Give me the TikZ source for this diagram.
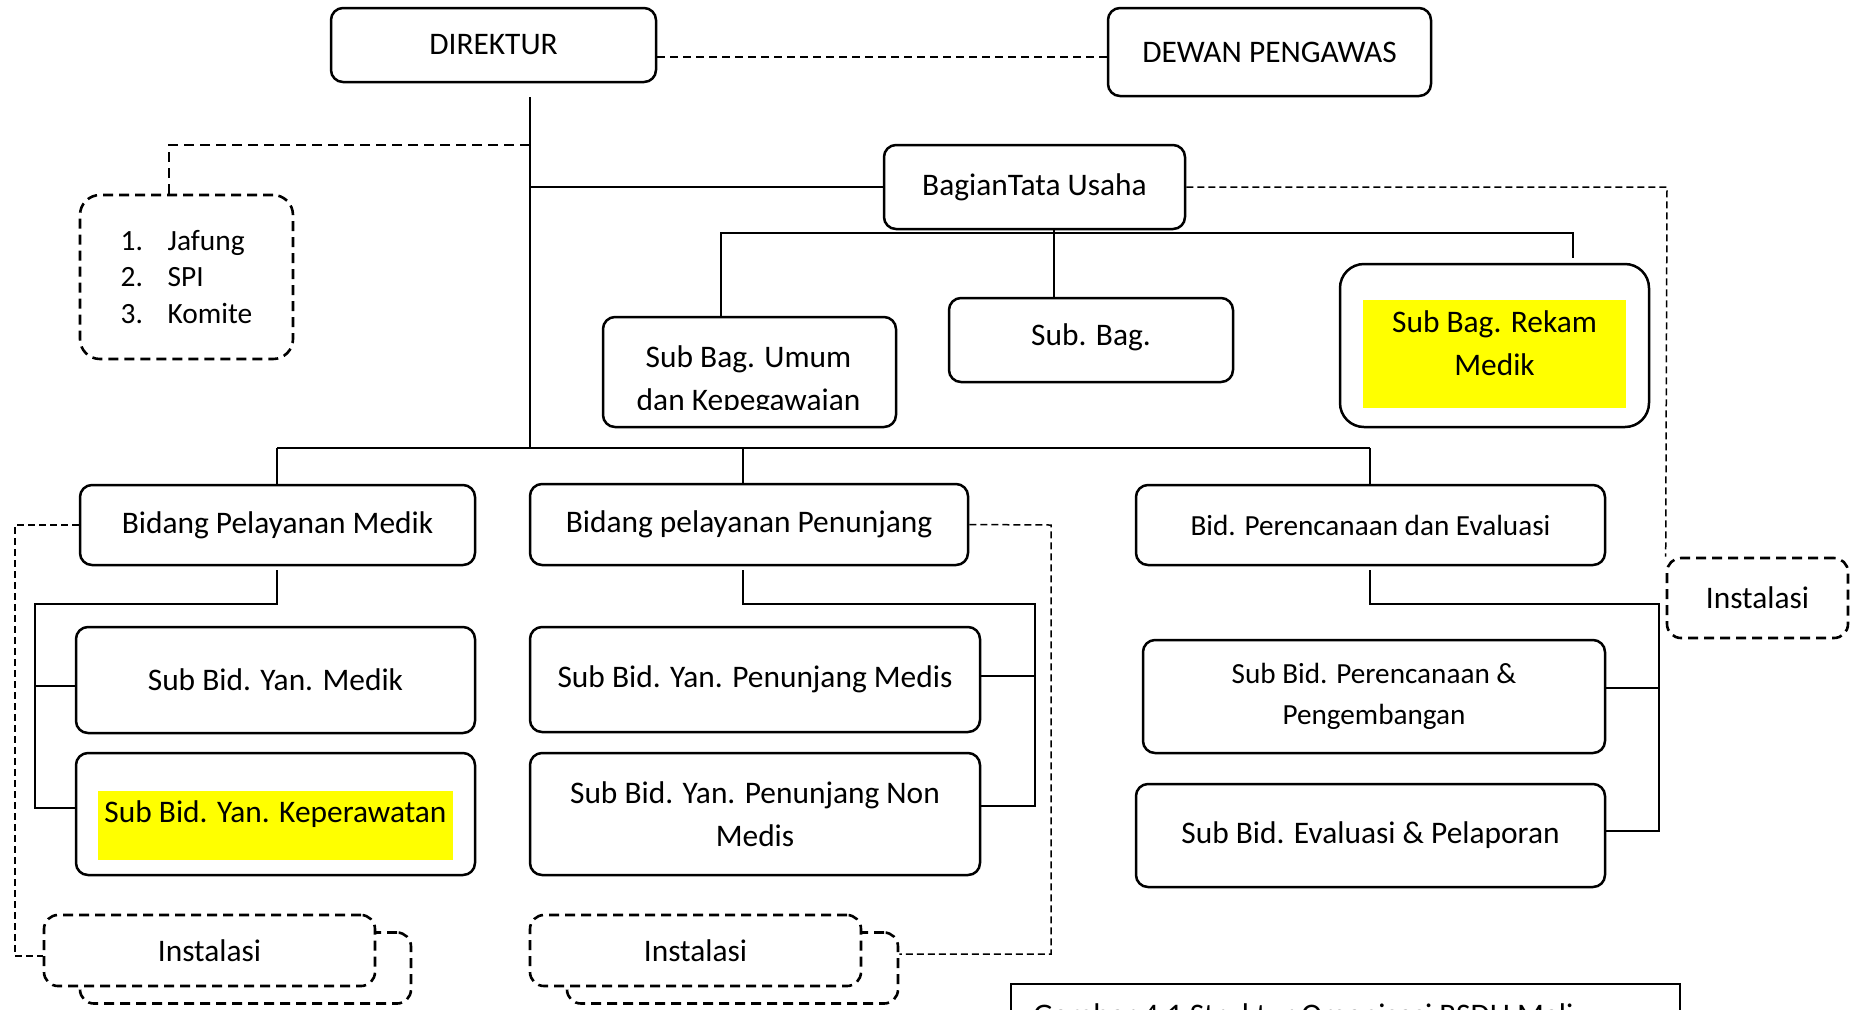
\documentclass[tikz,border=0pt]{standalone}
\usepackage{fontspec}
\setmainfont{Carlito}
\usetikzlibrary{calc}
\definecolor{hiyellow}{RGB}{255,255,0}
\newcommand\fmain{\fontsize{15.7}{21.5}\selectfont}
\newcommand\fsmall{\fontsize{14.6}{20.5}\selectfont}
\newcommand\flist{\fontsize{14.7}{18.3}\selectfont}
\begin{document}
\begin{tikzpicture}[x=0.5pt,y=-0.5pt,
  orgbox/.style={draw, line width=1.25pt, rounded corners=6pt, align=center, inner sep=0pt, font=\fmain},
  conn/.style={line width=1pt},
  dconn/.style={line width=1pt, dash pattern=on 4pt off 2.5pt},
  tconn/.style={line width=0.75pt, dash pattern=on 3.5pt off 2pt},
  dthick/.style={line width=1.3pt, dash pattern=on 5pt off 3pt},
  dbox/.style={draw, line width=1.3pt, dash pattern=on 5pt off 3pt, rounded corners=7pt, align=center, inner sep=0pt, font=\fmain, fill=white},
]
\useasboundingbox (0,0) rectangle (1854,1009);
\fill[white] (0,0) rectangle (1854,1009);
\clip (0,0) rectangle (1854,1009);

% yellow highlights
\fill[hiyellow] (1363,300) rectangle (1626,408);
\fill[hiyellow] (98,791) rectangle (453,860);

% top level
\node[orgbox, minimum width=162.5pt, minimum height=37pt] (dir) at (493.5,45) {DIREKTUR};
\node[orgbox, minimum width=161.5pt, minimum height=44pt] (dewan) at (1269.5,52) {DEWAN PENGAWAS};
\node[orgbox, minimum width=150.5pt, minimum height=42pt] (tata) at (1034.5,187) {BagianTata Usaha};

\node[dbox, minimum width=106.5pt, minimum height=82pt, rounded corners=10pt, font=\flist, align=left] (jafung) at (186.5,277)
  {\makebox[23.5pt][l]{1.}Jafung\\\makebox[23.5pt][l]{2.}SPI\\\makebox[23.5pt][l]{3.}Komite};

% sub bagian
\node[orgbox, minimum width=146.5pt, minimum height=55pt] (umum) at (749.5,372) {};
\begin{scope}
  \clip (603,317) rectangle (896,409);
  \node[align=center, font=\fmain, inner sep=0pt] (umumtxt) at (748.5,380.5) {Sub Bag. Umum\\dan Kepegawaian};
\end{scope}
\node[orgbox, minimum width=142pt, minimum height=42pt] (subbag) at (1091,340) {\raisebox{5pt}{Sub. Bag.}};
\node[orgbox, minimum width=154.5pt, minimum height=81.5pt, rounded corners=12pt] (rekam) at (1494.5,345.5) {\raisebox{1pt}{\begin{tabular}{@{}c@{}}Sub Bag. Rekam\\Medik\end{tabular}}};

% bidang
\node[orgbox, minimum width=197.5pt, minimum height=40pt] (bpm) at (277.5,525) {Bidang Pelayanan Medik};
\node[orgbox, minimum width=219pt, minimum height=40.5pt] (bpp) at (749,524.5) {Bidang pelayanan Penunjang};
\node[orgbox, minimum width=234.5pt, minimum height=40pt, font=\fsmall] (bpe) at (1370.5,525) {Bid. Perencanaan dan Evaluasi};

% sub bidang
\node[orgbox, minimum width=199.5pt, minimum height=53pt] (sym) at (275.5,680) {Sub Bid. Yan. Medik};
\node[orgbox, minimum width=199.5pt, minimum height=61pt] (syk) at (275.5,814) {\raisebox{2pt}{Sub Bid. Yan. Keperawatan}};
\node[orgbox, minimum width=225pt, minimum height=52.5pt] (spm) at (755,679.5) {Sub Bid. Yan. Penunjang Medis};
\node[orgbox, minimum width=225pt, minimum height=61pt] (spn) at (755,814) {Sub Bid. Yan. Penunjang Non\\Medis};
\node[orgbox, minimum width=231pt, minimum height=56.5pt, font=\fsmall] (spp) at (1374,696.5) {Sub Bid. Perencanaan \&\\Pengembangan};
\node[orgbox, minimum width=234.5pt, minimum height=51.5pt] (sep) at (1370.5,835.5) {Sub Bid. Evaluasi \& Pelaporan};

% instalasi
\node[dbox, minimum width=90.5pt, minimum height=40pt] (instr) at (1757.5,598) {Instalasi};
\node[dbox, minimum width=165.5pt, minimum height=35.5pt] (instlb) at (245.5,968) {};
\node[dbox, minimum width=165.5pt, minimum height=35.5pt] (instlf) at (209.5,950.5) {Instalasi};
\node[dbox, minimum width=165.5pt, minimum height=35.5pt] (instmb) at (732.5,968) {};
\node[dbox, minimum width=165.5pt, minimum height=35.5pt] (instmf) at (695.5,950.5) {Instalasi};

% caption (cut off at the lower edge, as in the reference)
\draw[line width=0.8pt] (1011,984) rectangle (1680,1080);
\node[anchor=base west, font=\fmain, inner sep=0pt] (cap) at (1033,1025) {Gambar 4.1 Struktur Organisasi RSDU Mali};

% coordinates
\coordinate (y57) at (0,57);
\coordinate (ttop) at (530,97);
\coordinate (tjaf) at (530,145);
\coordinate (ttata) at (530,187);
\coordinate (tbot) at (530,448);
\coordinate (jafk) at (169,145);
\coordinate (jafin) at (169,195);
\coordinate (tsub) at (1054,229);
\coordinate (hl) at (721,233);
\coordinate (hr) at (1573,233);
\coordinate (tick) at (1573,258);
\coordinate (bl) at (277,448);
\coordinate (bm) at (743,448);
\coordinate (br) at (1370,448);
\coordinate (l1) at (277,570);
\coordinate (l2) at (277,604);
\coordinate (l3) at (35,604);
\coordinate (l4) at (35,808);
\coordinate (l5) at (35,686);
\coordinate (m1) at (743,570);
\coordinate (m2) at (743,604);
\coordinate (m3) at (1035,604);
\coordinate (m4) at (1035,806);
\coordinate (m5) at (1035,676);
\coordinate (r1) at (1370,570);
\coordinate (r2) at (1370,604);
\coordinate (r3) at (1659,604);
\coordinate (r4) at (1659,831);
\coordinate (r5) at (1659,688);
\coordinate (dt) at (1667,187);
\coordinate (dl1) at (15,525);
\coordinate (dl2) at (15,956);
\coordinate (dm1) at (1051,525);
\coordinate (dm2) at (1051,954);

% connectors
\draw[dconn] (dir.east |- y57) -- (dewan.west |- y57);
\draw[conn] (ttop) -- (tbot);
\draw[dthick] (tjaf) -- (jafk) -- (jafin);
\draw[conn] (ttata) -- (tata.west);
\draw[conn] (tsub) -- (tsub |- subbag.north);
\draw[conn] (hl |- umum.north) -- (hl) -- (hr) -- (tick);
\draw[tconn] (tata.east) -- (dt) -- (instr.north west);

\draw[conn] (bl) -- (br);
\draw[conn] (bl) -- (bl |- bpm.north);
\draw[conn] (bm) -- (bm |- bpp.north);
\draw[conn] (br) -- (br |- bpe.north);

\draw[conn] (l1) -- (l2) -- (l3) -- (l4) -- (l4 -| syk.west);
\draw[conn] (l5) -- (l5 -| sym.west);
\draw[conn] (m1) -- (m2) -- (m3) -- (m4) -- (m4 -| spn.east);
\draw[conn] (m5) -- (m5 -| spm.east);
\draw[conn] (r1) -- (r2) -- (r3) -- (r4) -- (r4 -| sep.east);
\draw[conn] (r5) -- (r5 -| spp.east);

\draw[tconn] (bpm.west) -- (dl1) -- (dl2) -- (dl2 -| instlf.west);
\draw[tconn] (bpp.east) -- (dm1) -- (dm2) -- (dm2 -| instmb.east);
\end{tikzpicture}
\end{document}
